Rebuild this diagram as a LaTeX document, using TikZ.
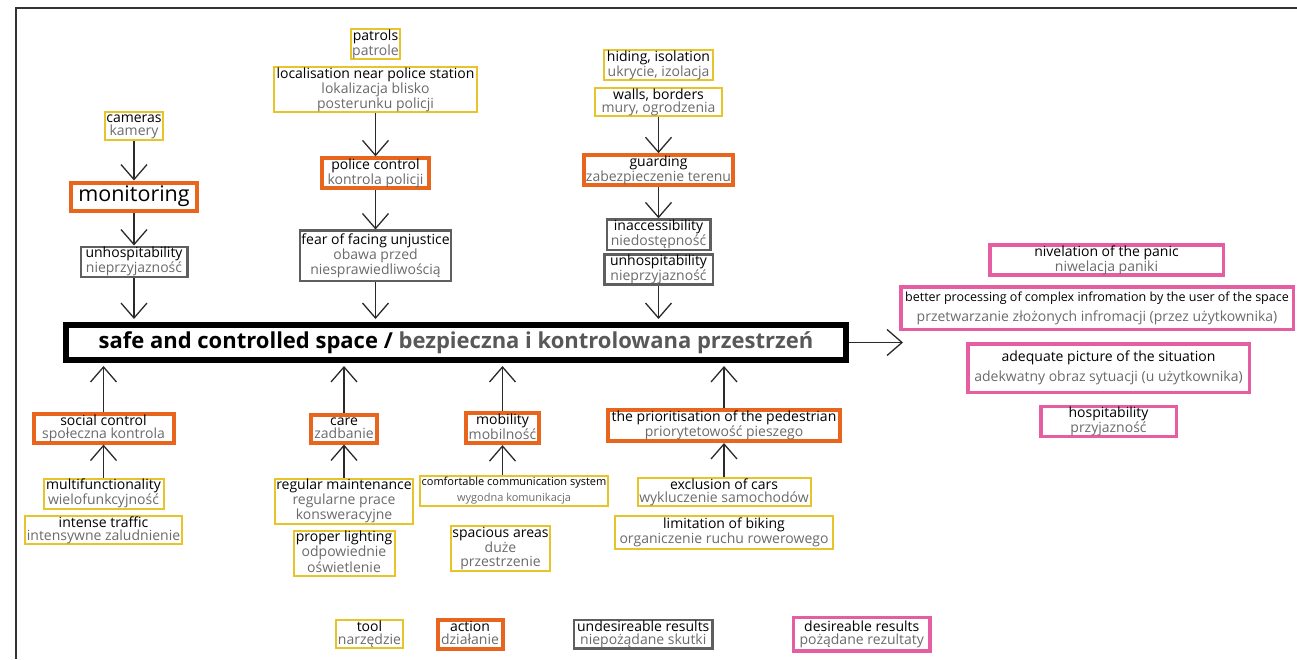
\documentclass[tikz,border=0pt]{standalone}
\usepackage{fontspec}
\setmainfont{Open Sans}
\usetikzlibrary{positioning,arrows.meta}

\definecolor{toolc}{HTML}{E6C42A}
\definecolor{actc}{HTML}{E8651E}
\definecolor{badc}{HTML}{5F5F5F}
\definecolor{goodc}{HTML}{E55EA2}
\definecolor{plgray}{HTML}{6A6A6A}
\definecolor{maingray}{HTML}{585858}
\definecolor{arrc}{HTML}{2A2A2A}
\definecolor{framec}{HTML}{333333}

\newcommand{\en}[1]{\rule{0pt}{10.5pt}#1}
\newcommand{\pl}[1]{\textcolor{plgray}{#1}\rule[-3.5pt]{0pt}{3.5pt}}

\tikzset{
  cbox/.style={draw, align=center, inner xsep=1.5pt, inner ysep=0.5pt, font=\fontsize{14}{13}\selectfont},
  toolbox/.style={cbox, draw=toolc, line width=2pt},
  actbox/.style={cbox, draw=actc, line width=4pt},
  badbox/.style={cbox, draw=badc, line width=2.5pt},
  goodbox/.style={cbox, draw=goodc, line width=3.5pt},
  arr/.style={-{Straight Barb[length=15pt,width=26pt]}, line width=1.3pt, draw=arrc},
}

\begin{document}
\begin{tikzpicture}[x=1pt,y=-1pt]
                \useasboundingbox (0,0) rectangle (1297,659);
                \draw[line width=2pt, draw=framec] (16,659) -- (16,8) -- (1297,8);

                \node[draw=black, line width=6pt, minimum width=780, minimum height=35, font=\fontsize{22}{22}\selectfont\bfseries] (main) at (456,342.5) {safe and controlled space / \textcolor{maingray}{bezpieczna i kontrolowana przestrzeń}};
                \coordinate (res) at (903,342.5);

                \node[toolbox, minimum width=57, minimum height=27] (cam) at (134,125.5) {\en{cameras}\\\pl{kamery}};
                \node[actbox, minimum width=126, minimum height=28, font=\fontsize{21.5}{22}\selectfont] (mon) [below=40pt of cam] {monitoring};
                \node[badbox, minimum width=106.5, minimum height=27.5] (unh1) [below=33pt of mon] {\en{unhospitability}\\\pl{nieprzyjazność}};

                \node[toolbox, minimum width=49, minimum height=28] (pat) at (375.5,44) {\en{patrols}\\\pl{patrole}};
                \node[toolbox, minimum width=203, minimum height=42] (loc) [below=6pt of pat] {\en{localisation near police station}\\\pl{lokalizacja blisko}\\\pl{posterunku policji}};
                \node[actbox, minimum width=107, minimum height=28] (pol) [below=43pt of loc] {\en{police control}\\\pl{kontrola policji}};
                \node[badbox, minimum width=146.5, minimum height=50.5] (fear) [below=39pt of pol] {\en{fear of facing unjustice}\\\pl{obawa przed}\\\pl{niesprawiedliwością}};

                \node[toolbox, minimum width=109, minimum height=30] (hid) at (658.5,65) {\en{hiding, isolation}\\\pl{ukrycie, izolacja}};
                \node[toolbox, minimum width=127, minimum height=28] (wal) [below=6pt of hid] {\en{walls, borders}\\\pl{mury, ogrodzenia}};
                \node[actbox, minimum width=147, minimum height=27] (gua) [below=36pt of wal] {\en{guarding}\\\pl{zabezpieczenie terenu}};
                \node[badbox, minimum width=103.5, minimum height=25.5, font=\fontsize{14}{12}\selectfont] (ina) [below=31pt of gua] {\en{inaccessibility}\\\pl{niedostępność}};
                \node[badbox, minimum width=108.5, minimum height=23.5, font=\fontsize{14}{12}\selectfont] (unh2) [below=2pt of ina] {\en{unhospitability}\\\pl{nieprzyjazność}};

                \node[actbox, minimum width=140, minimum height=27] (soc) at (103.5,428.5) {\en{social control}\\\pl{społeczna kontrola}};
                \node[toolbox, minimum width=120, minimum height=27] (mul) [below=33pt of soc] {\en{multifunctionality}\\\pl{wielofunkcyjność}};
                \node[toolbox, minimum width=154, minimum height=26] (int) [below=5pt of mul] {\en{intense traffic}\\\pl{intensywne zaludnienie}};

                \node[actbox, minimum width=66, minimum height=27] (car) at (344,428.5) {\en{care}\\\pl{zadbanie}};
                \node[toolbox, minimum width=137, minimum height=45] (reg) [below=33pt of car] {\en{regular maintenance}\\\pl{regularne prace}\\\pl{konsweracyjne}};
                \node[toolbox, minimum width=101, minimum height=41] (lig) [below=5pt of reg] {\en{proper lighting}\\\pl{odpowiednie}\\\pl{oświetlenie}};

                \node[actbox, minimum width=73, minimum height=26] (mob) at (502.5,428) {\en{mobility}\\\pl{mobilność}};
                \node[toolbox, minimum width=184, minimum height=30, font=\fontsize{11}{16}\selectfont] (com) at (514,491) {comfortable communication system\\\textcolor{plgray}{wygodna komunikacja}};
                \node[toolbox, minimum width=99, minimum height=41] (spa) at (500.5,548.5) {\en{spacious areas}\\\pl{duże}\\\pl{przestrzenie}};
                \coordinate (comtop) at (com.north -| mob);

                \node[actbox, minimum width=232, minimum height=31] (pri) at (724,425.5) {\en{the prioritisation of the pedestrian}\\\pl{priorytetowość pieszego}};
                \node[toolbox, minimum width=173, minimum height=27] (exc) [below=34pt of pri] {\en{exclusion of cars}\\\pl{wykluczenie samochodów}};
                \node[toolbox, minimum width=218, minimum height=33] (lim) [below=8pt of exc] {\en{limitation of biking}\\\pl{organiczenie ruchu rowerowego}};

                \node[goodbox, minimum width=233.5, minimum height=28.5] (niv) at (1106.5,260) {\en{nivelation of the panic}\\\pl{niwelacja paniki}};
                \node[goodbox, minimum width=392.5, minimum height=42.5] (bet) at (1097,308) {{\fontsize{12.5}{13}\selectfont\en{better processing of complex infromation by the user of the space}}\\[5pt]\pl{przetwarzanie złożonych infromacji (przez użytkownika)}};
                \node[goodbox, minimum width=281.5, minimum height=48.5] (ade) at (1108.5,368) {\en{adequate picture of the situation}\\[5pt]\pl{adekwatny obraz sytuacji (u użytkownika)}};
                \node[goodbox, minimum width=135.5, minimum height=29.5] (hos) [below=10.5pt of ade] {\en{hospitability}\\\pl{przyjazność}};

                \node[toolbox, minimum width=65, minimum height=28] (ltool) at (369.5,634) {\en{tool}\\\pl{narzędzie}};
                \node[actbox, minimum width=65, minimum height=29] (lact) [right=32pt of ltool] {\en{action}\\\pl{działanie}};
                \node[badbox, minimum width=138.5, minimum height=28.5] (lbad) [right=68.25pt of lact] {\en{undesireable results}\\\pl{niepożądane skutki}};
                \node[goodbox, minimum width=136.5, minimum height=33.5] (lgood) [right=78pt of lbad] {\en{desireable results}\\\pl{pożądane rezultaty}};

                \path[arr] (cam) edge (mon)
                           (mon) edge (unh1)
                           (unh1) edge[shorten >=3pt] (unh1 |- main.north)
                           (loc) edge (pol)
                           (pol) edge (fear)
                           (fear) edge[shorten >=3pt] (fear |- main.north)
                           (wal) edge (gua)
                           (gua) edge (ina)
                           (unh2) edge[shorten >=3pt] (unh2 |- main.north)
                           (soc) edge[shorten >=3pt] (soc |- main.south)
                           (mul) edge (soc)
                           (car) edge[shorten >=3pt] (car |- main.south)
                           (reg) edge (car)
                           (mob) edge[shorten >=3pt] (mob |- main.south)
                           (pri) edge[shorten >=3pt] (pri |- main.south)
                           (exc) edge (pri)
                           (main) edge (res);
                \draw[arr] (comtop) -- (mob);
            \end{tikzpicture}
\end{document}
